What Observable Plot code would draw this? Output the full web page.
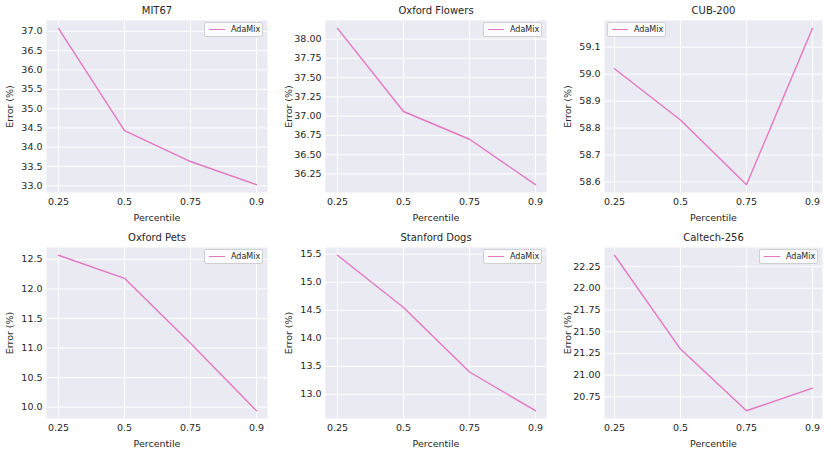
<!DOCTYPE html>
<html><head><meta charset="utf-8">
<script src="https://cdn.jsdelivr.net/npm/d3@7"></script>
<script src="https://cdn.jsdelivr.net/npm/@observablehq/plot@0.6"></script>
<style>
body{margin:0;background:#fff;}
#root{position:relative;width:831px;height:454px;font-family:"DejaVu Sans",sans-serif;overflow:hidden;}
.panel{position:absolute;}
.legend{position:absolute;width:57px;height:13px;background:rgba(255,255,255,0.8);border:1px solid #d0d0d0;border-radius:2px;box-sizing:content-box;}
.legend .sw{position:absolute;left:4px;top:6px;width:16px;height:0;border-top:1.4px solid #e377c2;}
.legend .lb{position:absolute;left:26px;top:1px;font-size:8px;line-height:11px;color:#262626;}
</style></head><body><div id="root"></div>
<script>
// ---- data ----
const percentiles = ["0.25", "0.5", "0.75", "0.9"];
const titles = ["MIT67", "Oxford Flowers", "CUB-200", "Oxford Pets", "Stanford Dogs", "Caltech-256"];
const seriesName = "AdaMix";
const mit67 = [37.08, 34.43, 33.63, 33.03];
const oxfordFlowers = [38.14, 37.06, 36.70, 36.11];
const cub200 = [59.02, 58.83, 58.59, 59.17];
const oxfordPets = [12.57, 12.18, 11.08, 9.94];
const stanfordDogs = [15.48, 14.55, 13.40, 12.71];
const caltech256 = [22.38, 21.30, 20.59, 20.85];
const ticksMit67 = [33.0, 33.5, 34.0, 34.5, 35.0, 35.5, 36.0, 36.5, 37.0];
const ticksFlowers = [36.25, 36.5, 36.75, 37.0, 37.25, 37.5, 37.75, 38.0];
const ticksCub = [58.6, 58.7, 58.8, 58.9, 59.0, 59.1];
const ticksPets = [10.0, 10.5, 11.0, 11.5, 12.0, 12.5];
const ticksDogs = [13.0, 13.5, 14.0, 14.5, 15.0, 15.5];
const ticksCaltech = [20.75, 21.0, 21.25, 21.5, 21.75, 22.0, 22.25];
const decimals = [1, 2, 1, 1, 1, 2];

// ---- layout ----
const allValues = [mit67, oxfordFlowers, cub200, oxfordPets, stanfordDogs, caltech256];
const allTicks = [ticksMit67, ticksFlowers, ticksCub, ticksPets, ticksDogs, ticksCaltech];
const colFrames = [[46, 267], [325, 546], [604, 822]];
const rowFrames = [[20, 192], [247, 418]];
const legendLeft = [false, false, true, false, false, false];
const ML = 46, MR = 8, MT = 20, MB = 36;
const root = document.getElementById("root");

allValues.forEach((vals, i) => {
  const col = i % 3, row = Math.floor(i / 3);
  const [fx0, fx1] = colFrames[col];
  const [fy0, fy1] = rowFrames[row];
  const fw = fx1 - fx0, fh = fy1 - fy0;
  const lo = d3.min(vals), hi = d3.max(vals), pad = (hi - lo) * 0.05;
  const rows = vals.map((v, k) => ({p: percentiles[k], v}));
  const fmt = d3.format("." + decimals[i] + "f");
  const plot = Plot.plot({
    width: fw + ML + MR, height: fh + MT + MB,
    marginLeft: ML, marginRight: MR, marginTop: MT, marginBottom: MB,
    style: {background: "transparent", fontFamily: "DejaVu Sans, sans-serif", fontSize: "9px", color: "#262626"},
    x: {type: "point", domain: percentiles, padding: 0.15},
    y: {domain: [lo - pad, hi + pad]},
    marks: [
      Plot.frame({fill: "#EAEAF2", stroke: null}),
      Plot.gridX({stroke: "white", strokeOpacity: 1, strokeWidth: 1}),
      Plot.gridY(allTicks[i], {stroke: "white", strokeOpacity: 1, strokeWidth: 1}),
      Plot.axisX({tickSize: 0, tickPadding: 6, label: "Percentile", labelArrow: "none", labelAnchor: "center", labelOffset: 28, fontSize: 9.5}),
      Plot.axisY(allTicks[i], {tickSize: 0, tickPadding: 4, tickFormat: fmt, label: "Error (%)", labelArrow: "none", labelAnchor: "center", labelOffset: 40, fontSize: 9.5}),
      Plot.line(rows, {x: "p", y: "v", stroke: "#e377c2", strokeWidth: 1.4}),
      Plot.text([titles[i]], {frameAnchor: "top", lineAnchor: "middle", dy: -10, fontSize: 10, fill: "#262626"})
    ]
  });
  // strip any arrow glyphs if the installed Plot version ignores labelArrow
  plot.querySelectorAll("text").forEach(t => {
    if (/[↑→]/.test(t.textContent)) t.textContent = t.textContent.replace(/\s*[↑→]\s*/g, "");
  });
  plot.classList.add("panel");
  plot.style.left = (fx0 - ML) + "px";
  plot.style.top = (fy0 - MT) + "px";
  root.appendChild(plot);

  const lg = document.createElement("div");
  lg.className = "legend";
  const lx = legendLeft[i] ? fx0 + 3 : fx1 - 4 - 59;
  lg.style.left = lx + "px";
  lg.style.top = (fy0 + 2) + "px";
  lg.innerHTML = '<div class="sw"></div><div class="lb">' + seriesName + '</div>';
  root.appendChild(lg);
});
</script>
</body></html>
